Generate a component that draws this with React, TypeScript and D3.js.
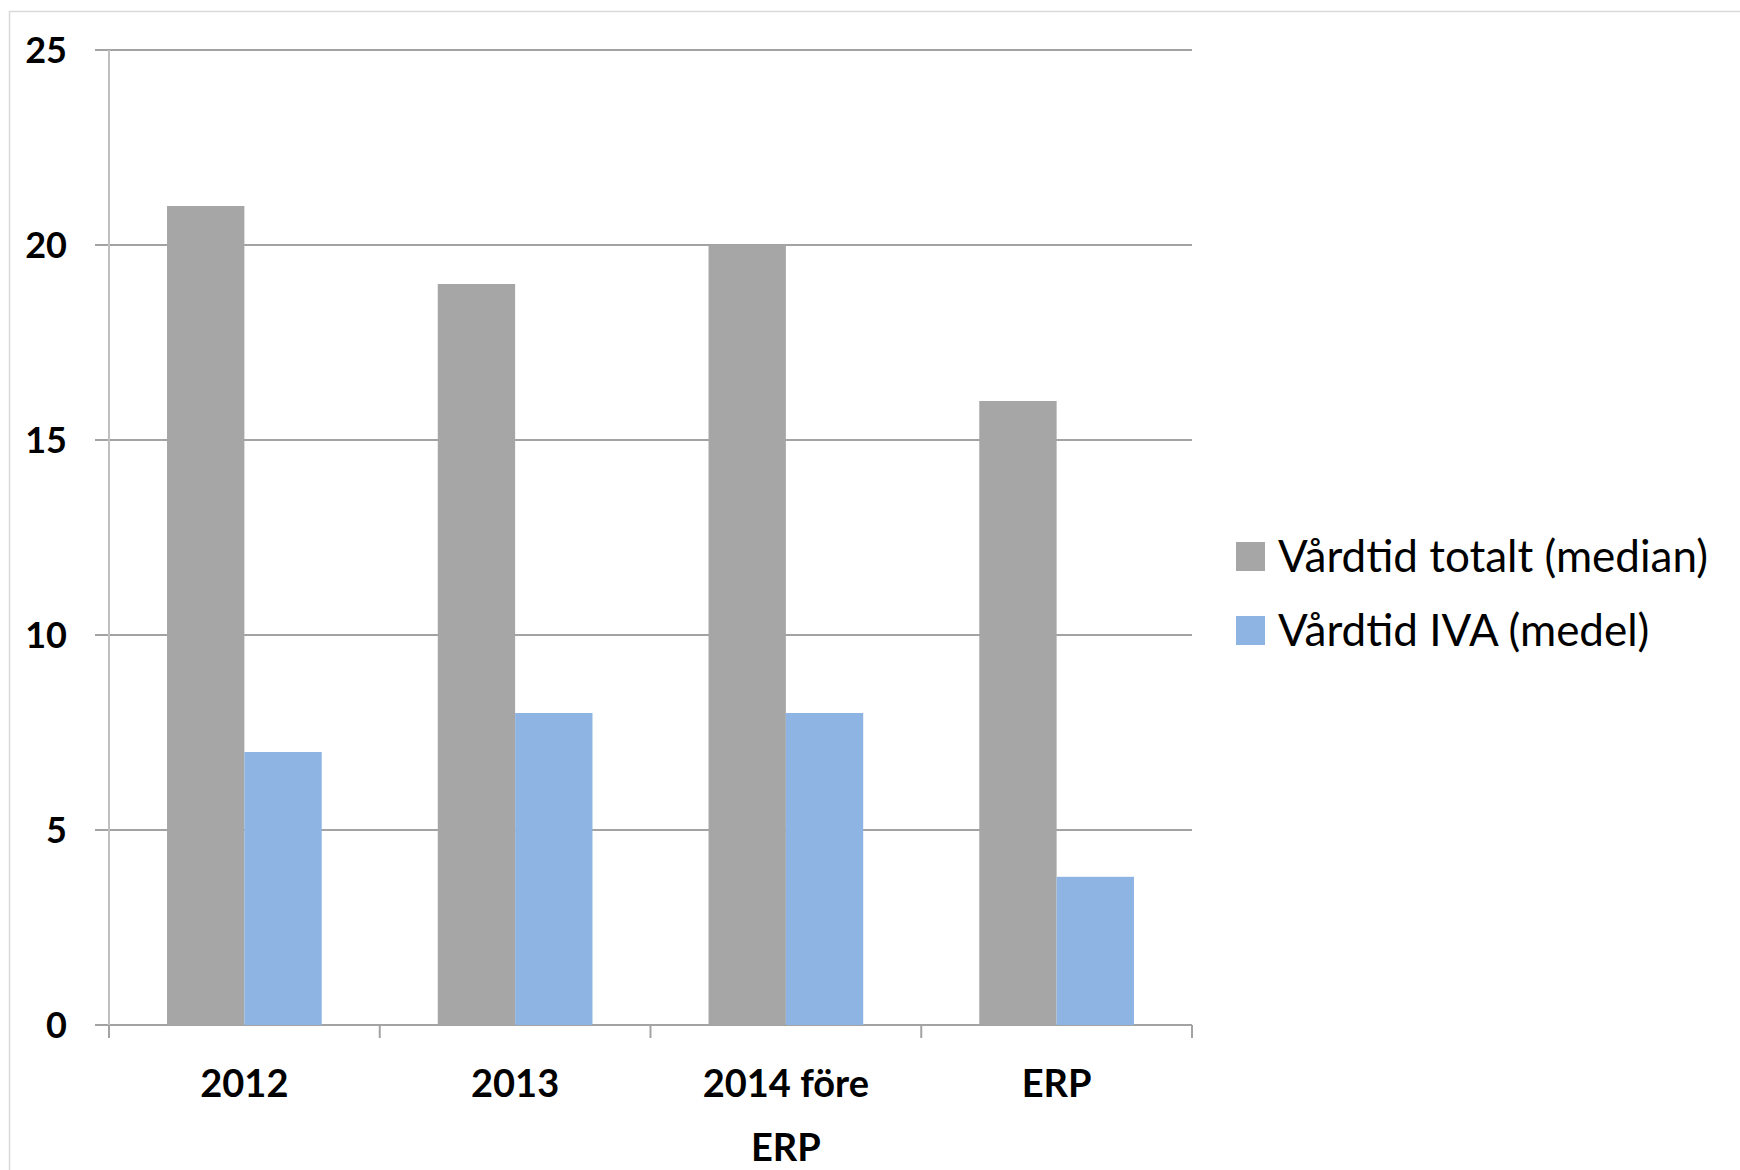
import React from "react";
import * as d3 from "d3";

const categories: string[][] = [["2012"], ["2013"], ["2014 före", "ERP"], ["ERP"]];
const seriesNames = ["Vårdtid totalt (median)", "Vårdtid IVA (medel)"];
const totalMedian = [21, 19, 20, 16];
const ivaMean = [7, 8, 8, 3.8];
const seriesColors = ["#a6a6a6", "#8eb4e3"];
const yTicks = [0, 5, 10, 15, 20, 25];

const W = 1740;
const H = 1170;
const plot = { left: 109, right: 1192, top: 50, bottom: 1025 };
const FONT = "Lato, 'Open Sans', sans-serif";

export default function App() {
  const keys = categories.map((c) => c.join(" "));
  const x = d3
    .scaleBand<string>()
    .domain(keys)
    .range([plot.left, plot.right])
    .paddingInner(0)
    .paddingOuter(0);
  const y = d3.scaleLinear().domain([0, 25]).range([plot.bottom, plot.top]);

  // Excel-style clustered bars: gap width 150% of one bar
  const barW = x.bandwidth() / 3.5;
  const groupPad = (x.bandwidth() - 2 * barW) / 2;
  const series = [totalMedian, ivaMean];

  const boundaries = d3.range(keys.length + 1).map((i) => plot.left + i * x.step());

  return (
    <svg
      width={W}
      height={H}
      style={{ position: "absolute", left: 0, top: 0, background: "#fff" }}
    >
      <rect x={9.5} y={11.5} width={W} height={H} fill="#fff" stroke="#d9d9d9" strokeWidth={1.5} />

      {/* horizontal gridlines with small outer ticks */}
      {yTicks.map((t) => (
        <line
          key={"g" + t}
          x1={plot.left - 14}
          x2={plot.right}
          y1={y(t)}
          y2={y(t)}
          stroke="#a3a3a3"
          strokeWidth={2}
        />
      ))}

      {/* y axis */}
      <line x1={plot.left} x2={plot.left} y1={plot.top} y2={plot.bottom + 13} stroke="#bfbfbf" strokeWidth={2} />

      {/* category ticks */}
      {boundaries.map((bx, i) => (
        <line key={"t" + i} x1={bx} x2={bx} y1={plot.bottom} y2={plot.bottom + 13} stroke="#a3a3a3" strokeWidth={2} />
      ))}

      {/* bars */}
      {series.map((vals, si) =>
        vals.map((v, ci) => {
          const bx = (x(keys[ci]) as number) + groupPad + si * barW;
          return (
            <rect
              key={`b${si}-${ci}`}
              x={bx}
              y={y(v)}
              width={barW}
              height={y(0) - y(v)}
              fill={seriesColors[si]}
            />
          );
        })
      )}

      {/* y tick labels */}
      {yTicks.map((t) => (
        <text
          key={"l" + t}
          x={67}
          y={y(t)}
          dy="0.36em"
          textAnchor="end"
          fontFamily={FONT}
          fontWeight={700}
          fontSize={36}
          fill="#000"
        >
          {t}
        </text>
      ))}

      {/* category labels */}
      {categories.map((lines, ci) => (
        <text
          key={"c" + ci}
          textAnchor="middle"
          fontFamily={FONT}
          fontWeight={700}
          fontSize={38}
          fill="#000"
        >
          {lines.map((ln, li) => (
            <tspan key={li} x={(x(keys[ci]) as number) + x.bandwidth() / 2} y={1097 + li * 64}>
              {ln}
            </tspan>
          ))}
        </text>
      ))}

      {/* legend */}
      {seriesNames.map((name, i) => (
        <g key={"lg" + i} transform={`translate(1236, ${542 + i * 74})`}>
          <rect x={0} y={0} width={29} height={29} fill={seriesColors[i]} />
          <text x={42} y={14.5} dy="0.36em" fontFamily={FONT} fontSize={44} fill="#000">
            {name}
          </text>
        </g>
      ))}
    </svg>
  );
}
